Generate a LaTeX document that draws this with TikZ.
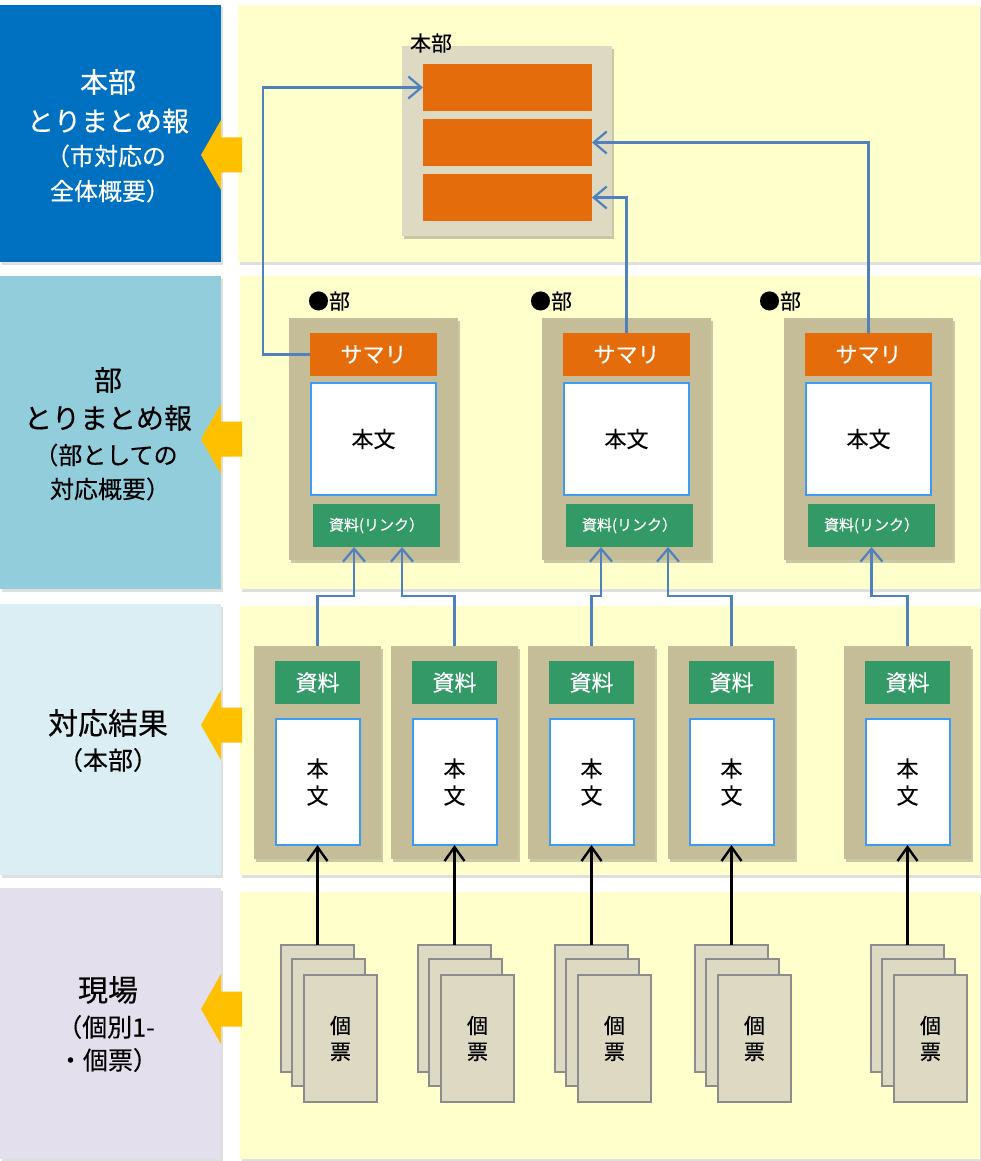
\documentclass[tikz,border=0pt]{standalone}
\usepackage{fontspec}
\setmainfont{Noto Sans CJK JP}[FakeBold=0.35]
\usetikzlibrary{arrows.meta,shadows,calc}

\definecolor{bandA}{HTML}{0070C0}
\definecolor{bandB}{HTML}{92CDDC}
\definecolor{bandC}{HTML}{DAEEF3}
\definecolor{bandD}{HTML}{E4DFEC}
\definecolor{panelY}{HTML}{FFFFCC}
\definecolor{arrowY}{HTML}{FFC000}
\definecolor{tanD}{HTML}{C4BD97}
\definecolor{tanL}{HTML}{DDD9C3}
\definecolor{orangeB}{HTML}{E46C0A}
\definecolor{greenB}{HTML}{339966}
\definecolor{bodyBorder}{HTML}{3D9BF5}
\definecolor{linkBlue}{HTML}{4F81BD}
\definecolor{cardBorder}{HTML}{8C8C8C}

\newcommand\fs[1]{\fontsize{#1}{#1}\selectfont}

\tikzset{
  every node/.style={inner sep=0pt, outer sep=0pt},
  softshadow/.style={drop shadow={shadow xshift=2pt, shadow yshift=-3pt, opacity=0.3, fill=black!70}},
  lightshadow/.style={drop shadow={shadow xshift=1.5pt, shadow yshift=-2.5pt, opacity=0.18, fill=black!70}},
  band/.style={rectangle, minimum width=221pt, lightshadow},
  panel/.style={rectangle, fill=panelY, lightshadow},
  grp/.style={rectangle, fill=tanD, minimum width=169pt, minimum height=242pt, softshadow},
  sumbox/.style={rectangle, fill=orangeB, minimum width=127pt, minimum height=43pt, text=white, font=\fs{22}},
  bodybox/.style={rectangle, fill=white, draw=bodyBorder, line width=2pt, minimum width=125pt, minimum height=112pt, font=\fs{22}},
  linkbox/.style={rectangle, fill=greenB, minimum width=127pt, minimum height=43pt, text=white, font=\fs{15}},
  rescont/.style={rectangle, fill=tanD, minimum width=127pt, minimum height=213pt, softshadow},
  resbox/.style={rectangle, fill=greenB, minimum width=85pt, minimum height=43pt, text=white, font=\fs{22}},
  txtbox/.style={rectangle, fill=white, draw=bodyBorder, line width=2pt, minimum width=84pt, minimum height=126pt, font=\fs{22}, align=center},
  hqbox/.style={rectangle, fill=orangeB, minimum width=169pt, minimum height=47pt},
  card/.style={rectangle, fill=tanL, draw=cardBorder, line width=2.3pt, minimum width=73pt, minimum height=127pt},
  bluearr/.style={draw=linkBlue, line width=2.2pt, -{Straight Barb[length=13pt,width=22pt]}},
  blackarr/.style={draw=black, line width=2.4pt, -{Straight Barb[length=14pt,width=20pt]}},
  lbl/.style={font=\fs{21}, anchor=west},
}

\newcommand\yarrow[1]{\fill[arrowY] (201,#1) -- ++(20,-35) -- ++(0,17.5) -- ++(21,0) -- ++(0,35) -- ++(-21,0) -- ++(0,17.5) -- cycle;}

\newcommand\stack[3]{% name, cx, top
  \node[card] (#1a) at (#2,#3+64.5) {};
  \node[card] (#1b) at (#2+11,#3+78.5) {};
  \node[card, align=center, font=\fontsize{21}{26}\selectfont] (#1c) at (#2+23,#3+94.5) {個\\票};
}

\begin{document}
\begin{tikzpicture}[x=1pt, y=-1pt]
\useasboundingbox (0,0) rectangle (980,1161);

% left bands
\node[band, fill=bandA, minimum height=257pt] (bA) at (110.5,133.5) {};
\node[band, fill=bandB, minimum height=313pt] (bB) at (110.5,432.5) {};
\node[band, fill=bandC, minimum height=271pt] (bC) at (110.5,739.5) {};
\node[band, fill=bandD, minimum height=271pt] (bD) at (110.5,1023.5) {};

% yellow panels
\node[panel, minimum width=742pt, minimum height=257pt] (pA) at (609,133.5) {};
\node[panel, minimum width=740pt, minimum height=313pt] (pB) at (610,432.5) {};
\node[panel, minimum width=740pt, minimum height=269pt] (pC) at (610,740.5) {};
\node[panel, minimum width=740pt, minimum height=267pt] (pD) at (610,1025.5) {};

% band texts
\node[text=white, font=\fs{28}] (tA1) at (108,82) {本部};
\node[text=white, font=\fs{27}] (tA2) at (108,121) {とりまとめ報};
\node[text=white, font=\fs{24}] (tA3) at (106,156) {（市対応の};
\node[text=white, font=\fs{24}] (tA4) at (110,191) {全体概要）};

\node[font=\fs{28}] (tB1) at (108,380) {部};
\node[font=\fs{28}] (tB2) at (108,418) {とりまとめ報};
\node[font=\fs{24}] (tB3) at (106,455) {（部としての};
\node[font=\fs{24}] (tB4) at (110,489) {対応概要）};

\node[font=\fs{30}] (tC1) at (108,723) {対応結果};
\node[font=\fs{25}] (tC2) at (108,760) {（本部）};

\node[font=\fs{30}] (tD1) at (108,990) {現場};
\node[font=\fs{25}] (tD2) at (106,1027) {（個別1-};
\node[font=\fs{25}] (tD3) at (108,1060) {・個票）};

% yellow arrows
\yarrow{155}
\yarrow{439}
\yarrow{725}
\yarrow{1009}

% HQ container
\node[rectangle, fill=tanL, minimum width=210pt, minimum height=190pt, softshadow] (hq) at (507,141) {};
\node[hqbox] (hq1) at (507.5,87.5) {};
\node[hqbox] (hq2) at (507.5,142.5) {};
\node[hqbox] (hq3) at (507.5,197.5) {};
\node[lbl] (hqlbl) at (410,43) {本部};

% department groups
\node[lbl] (lA) at (308,301) {●部};
\node[lbl] (lB) at (530,301) {●部};
\node[lbl] (lC) at (759,301) {●部};

\node[grp] (gA) at (373.5,439) {};
\node[sumbox] (sumA) at (373.5,354.5) {サマリ};
\node[bodybox] (bodyA) at (373.5,439) {本文};
\node[linkbox] (linkA) at (376.5,525.5) {資料(リンク）};

\node[grp] (gB) at (626.5,439) {};
\node[sumbox] (sumB) at (626.5,354.5) {サマリ};
\node[bodybox] (bodyB) at (626.5,439) {本文};
\node[linkbox] (linkB) at (629.5,525.5) {資料(リンク）};

\node[grp] (gC) at (868.5,439) {};
\node[sumbox] (sumC) at (868.5,354.5) {サマリ};
\node[bodybox] (bodyC) at (868.5,439) {本文};
\node[linkbox] (linkC) at (871.5,525.5) {資料(リンク）};

% result containers
\foreach \n/\cx in {A/317.5,B/454.5,C/591.5,D/731.5,E/907.5}{
  \node[rescont] (c\n) at (\cx,752.5) {};
  \node[resbox] (res\n) at (\cx,682.5) {資料};
  \node[txtbox] (txt\n) at (\cx,782) {本\\[5pt]文};
}

% stacks of cards
\stack{sA}{317.5}{944}
\stack{sB}{454.5}{944}
\stack{sC}{591.5}{944}
\stack{sD}{731.5}{944}
\stack{sE}{907.5}{944}

% blue connectors to HQ
\draw[bluearr] (sumA.west) -- ++(-47,0) |- (hq1.west);
\draw[bluearr] (sumB.north) |- (hq3.east);
\draw[bluearr] (sumC.north) |- (hq2.east);

% blue connectors from results to links
\draw[bluearr] (cA.north) -- ++(0,-50) -| ([xshift=-22.5pt]linkA.south);
\draw[bluearr] (cB.north) -- ++(0,-50) -| ([xshift=25.5pt]linkA.south);
\draw[bluearr] (cC.north) -- ++(0,-50) -| ([xshift=-28.5pt]linkB.south);
\draw[bluearr] (cD.north) -- ++(0,-50) -| ([xshift=38.5pt]linkB.south);
\draw[bluearr] (cE.north) -- ++(0,-50) -| (linkC.south);

% black arrows from cards
\draw[blackarr] (sAa.north) -- (txtA.south);
\draw[blackarr] (sBa.north) -- (txtB.south);
\draw[blackarr] (sCa.north) -- (txtC.south);
\draw[blackarr] (sDa.north) -- (txtD.south);
\draw[blackarr] (sEa.north) -- (txtE.south);
\end{tikzpicture}
\end{document}
